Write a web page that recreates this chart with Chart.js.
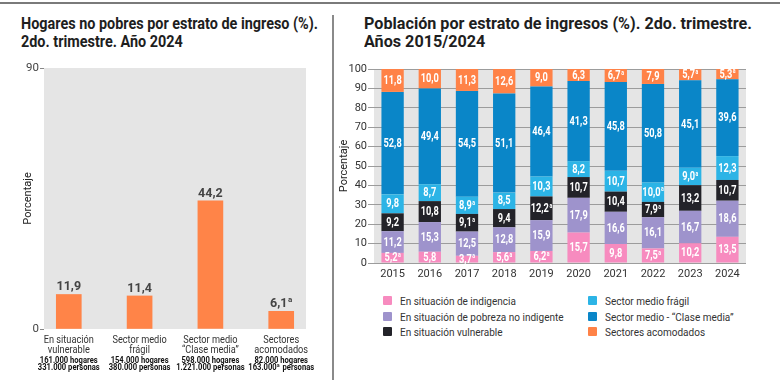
<!DOCTYPE html>
<html><head><meta charset="utf-8">
<script src="https://cdn.jsdelivr.net/npm/chart.js@4.4.1/dist/chart.umd.min.js"></script>
<style>
html,body{margin:0;padding:0;background:#fff;width:780px;height:380px;overflow:hidden;position:relative;font-family:Roboto,sans-serif}
.rule{position:absolute;left:0;top:2px;width:780px;height:2px;background:#7a7a7a}
.vdiv{position:absolute;left:332px;top:15px;width:2px;height:365px;background:#8a8a8a}
.title{position:absolute;font-weight:bold;font-size:17px;line-height:18px;color:#1e1e1e;white-space:nowrap;transform-origin:0 0}
.title span{display:block}
#t1{left:21px;top:14px}
#t2{left:364px;top:14px}
#c1{position:absolute;left:0;top:55px}
#c2{position:absolute;left:333px;top:55px}
.lg{position:absolute;font-size:11.5px;color:#333;white-space:nowrap;line-height:14px}
.lg span.sw{position:absolute;left:0;top:2px;width:9px;height:9px;border-radius:1px}
.lg span.tx{position:absolute;left:17px;top:0;transform:scaleX(0.87);transform-origin:0 0}
</style></head>
<body>
<div class="rule"></div>
<div class="vdiv"></div>
<div class="title" id="t1"><span>Hogares no pobres por estrato de ingreso (%).</span><span>2do. trimestre. Año 2024</span></div>
<div class="title" id="t2"><span>Población por estrato de ingresos (%). 2do. trimestre.</span><span>Años 2015/2024</span></div>
<canvas id="c1" width="332" height="325"></canvas>
<canvas id="c2" width="447" height="230"></canvas>
<div id="legend"></div>
<script>
// ---- Left chart data ----
const hogCategories = [["En situación","vulnerable"],["Sector medio","frágil"],["Sector medio","“Clase media”"],["Sectores","acomodados"]];
const hogValues = [11.9, 11.4, 44.2, 6.1];
const hogValueFlags = [false, false, false, true];
const hogHogares = ["161.000 hogares","154.000 hogares","598.000 hogares","82.000 hogares"];
const hogPersonasNum = ["331.000","380.000","1.221.000","163.000"];
const hogPersonasFlags = [false, false, false, true];
const hogYTicks = [0, 90];

// ---- Right chart data ----
const years = ["2015","2016","2017","2018","2019","2020","2021","2022","2023","2024"];
const seriesNames = ["En situación de indigencia","En situación de pobreza no indigente","En situación vulnerable","Sector medio frágil","Sector medio - “Clase media”","Sectores acomodados"];
const indigencia   = [5.2, 5.8, 3.7, 5.6, 6.2, 15.7, 9.8, 7.5, 10.2, 13.5];
const pobreza      = [11.2, 15.3, 12.5, 12.8, 15.9, 17.9, 16.6, 16.1, 16.7, 18.6];
const vulnerable   = [9.2, 10.8, 9.1, 9.4, 12.2, 10.7, 10.4, 7.9, 13.2, 10.7];
const medioFragil  = [9.8, 8.7, 8.9, 8.5, 10.3, 8.2, 10.7, 10.0, 9.0, 12.3];
const claseMedia   = [52.8, 49.4, 54.5, 51.1, 46.4, 41.3, 45.8, 50.8, 45.1, 39.6];
const acomodados   = [11.8, 10.0, 11.3, 12.6, 9.0, 6.3, 6.7, 7.9, 5.7, 5.3];
const indigenciaFlags  = [1,0,1,1,1,0,0,1,0,0];
const pobrezaFlags     = [0,0,0,0,0,0,0,0,0,0];
const vulnerableFlags  = [0,0,1,0,1,0,0,1,0,0];
const medioFragilFlags = [0,0,1,0,0,0,0,1,1,0];
const claseMediaFlags  = [0,0,0,0,0,0,0,0,0,0];
const acomodadosFlags  = [0,0,0,0,0,0,1,0,1,1];
const seriesColors = ["#f78bbf","#9e93cc","#232329","#2cb4e6","#0a86c8","#ff8247"];

const F = 'Roboto, sans-serif';
const fmt = v => v.toFixed(1).replace('.', ',');

// fit titles to the reference widths
function fitTitle(id, target) {
  const el = document.getElementById(id);
  const w = el.querySelector('span').getBoundingClientRect().width;
  el.style.transform = 'scaleX(' + (target / w) + ')';
}
fitTitle('t1', 297);
fitTitle('t2', 388);

// draw text with horizontal compression; align: 'left'|'center'|'right'
function drawText(ctx, s, x, y, font, align, sx) {
  ctx.save(); ctx.font = font; ctx.textAlign = align;
  ctx.translate(x, y); ctx.scale(sx, 1); ctx.fillText(s, 0, 0); ctx.restore();
}
function drawSup(ctx, txt, sup, x, y, font, supFont, sx, supRaise) {
  ctx.font = font;
  const w1 = ctx.measureText(txt).width * sx;
  let w2 = 0;
  if (sup) { ctx.font = supFont; w2 = (ctx.measureText('a').width + 0.5) * sx; }
  const x0 = x - (w1 + w2) / 2;
  drawText(ctx, txt, x0, y, font, 'left', sx);
  if (sup) drawText(ctx, 'a', x0 + w1 + 0.5, y - supRaise, supFont, 'left', sx);
  return x0 + w1 + w2;
}

const bgPlugin = (color) => ({
  id: 'bg',
  beforeDraw(chart) {
    const a = chart.chartArea, ctx = chart.ctx;
    ctx.save(); ctx.fillStyle = color; ctx.fillRect(a.left, a.top, a.right - a.left, a.bottom - a.top); ctx.restore();
  }
});

// ---- Left chart ----
const leftLabels = {
  id: 'leftLabels',
  afterDraw(chart) {
    const ctx = chart.ctx;
    const meta = chart.getDatasetMeta(0);
    ctx.save();
    ctx.fillStyle = '#444';
    ctx.textBaseline = 'alphabetic';
    meta.data.forEach((bar, i) => {
      drawSup(ctx, fmt(hogValues[i]), hogValueFlags[i], bar.x, bar.y - 4, 'bold 12.5px ' + F, 'bold 8px ' + F, 1, 5);
    });
    const xs = chart.scales.x;
    const base = xs.top;
    hogCategories.forEach((lines, i) => {
      const x = xs.getPixelForValue(i);
      ctx.fillStyle = '#333';
      ctx.textBaseline = 'middle';
      lines.forEach((l, j) => drawText(ctx, l, x, base + 11 + j * 10.5, '11.5px ' + F, 'center', 0.8));
      ctx.fillStyle = '#111';
      const numFont = 'bold 9.5px ' + F;
      drawText(ctx, hogHogares[i], x, base + 32, numFont, 'center', 0.8);
      // personas line: number (with optional superscript) + " personas"
      ctx.font = numFont;
      const wNum = ctx.measureText(hogPersonasNum[i]).width * 0.8;
      const wSup = hogPersonasFlags[i] ? 4 : 0;
      const wRest = ctx.measureText(' personas').width * 0.8;
      const x0 = x - (wNum + wSup + wRest) / 2;
      drawText(ctx, hogPersonasNum[i], x0, base + 39, numFont, 'left', 0.8);
      if (hogPersonasFlags[i]) drawText(ctx, 'a', x0 + wNum + 0.3, base + 36.5, 'bold 6px ' + F, 'left', 0.8);
      drawText(ctx, ' personas', x0 + wNum + wSup, base + 39, numFont, 'left', 0.8);
    });
    ctx.restore();
  }
};

new Chart(document.getElementById('c1'), {
  type: 'bar',
  data: { datasets: [{ data: hogValues.map((v, i) => ({ x: i, y: v })), backgroundColor: '#ff8448', barThickness: 25 }] },
  options: {
    animation: false, responsive: false,
    layout: { padding: { left: 0, right: 26, top: 13, bottom: 0 } },
    plugins: { legend: { display: false }, tooltip: { enabled: false } },
    scales: {
      x: {
        type: 'linear', min: -0.35, max: 3.35, offset: false,
        afterBuildTicks(s) { s.ticks = hogCategories.map((c, i) => ({ value: i })); },
        ticks: { display: false },
        grid: { display: false, offset: false }, border: { display: false },
        afterFit(s) { s.height = 51; }
      },
      y: {
        min: 0, max: 90,
        afterBuildTicks(s) { s.ticks = hogYTicks.map(v => ({ value: v })); },
        ticks: { font: { family: F, size: 11.5 }, color: '#444', padding: 1 },
        grid: { drawOnChartArea: false, tickLength: 4, color: '#888' }, border: { display: false },
        title: { display: true, text: 'Porcentaje', font: { family: F, size: 11 }, color: '#222', padding: { top: 22, bottom: 0 } },
        afterFit(s) { s.width = 44; }
      }
    }
  },
  plugins: [bgPlugin('#e5e5e5'), leftLabels]
});

// ---- Right chart ----
const seriesData = [indigencia, pobreza, vulnerable, medioFragil, claseMedia, acomodados];
const seriesFlags = [indigenciaFlags, pobrezaFlags, vulnerableFlags, medioFragilFlags, claseMediaFlags, acomodadosFlags];

const segLabels = {
  id: 'segLabels',
  afterDatasetsDraw(chart) {
    const ctx = chart.ctx;
    ctx.save();
    ctx.fillStyle = '#fff';
    ctx.textBaseline = 'middle';
    chart.data.datasets.forEach((ds, di) => {
      const meta = chart.getDatasetMeta(di);
      meta.data.forEach((bar, i) => {
        const y = (bar.y + bar.base) / 2;
        drawSup(ctx, fmt(seriesData[di][i]), seriesFlags[di][i], bar.x, y + 0.5, 'bold 12.5px ' + F, 'bold 7px ' + F, 0.74, 3);
      });
    });
    ctx.restore();
  }
};

new Chart(document.getElementById('c2'), {
  type: 'bar',
  data: {
    labels: years,
    datasets: seriesData.map((d, i) => ({ label: seriesNames[i], data: d, backgroundColor: seriesColors[i], barPercentage: 0.6, categoryPercentage: 1 }))
  },
  options: {
    animation: false, responsive: false,
    layout: { padding: { left: 0, right: 34, top: 14, bottom: 0 } },
    plugins: { legend: { display: false }, tooltip: { enabled: false } },
    scales: {
      x: { stacked: true, grid: { display: false, drawTicks: false, tickLength: 0 }, border: { display: false },
           ticks: { font: { family: F, size: 11 }, color: '#333', padding: 5 },
           afterFit(s) { s.height = 22; } },
      y: { stacked: true, min: 0, max: 100,
           ticks: { stepSize: 10, font: { family: F, size: 11 }, color: '#333', padding: 1 },
           grid: { color: '#9c9c9c', tickLength: 6 }, border: { display: false },
           title: { display: true, text: 'Porcentaje', font: { family: F, size: 11 }, color: '#222', padding: { top: 5, bottom: 0 } },
           afterFit(s) { s.width = 41; } }
    }
  },
  plugins: [bgPlugin('#e5e5e5'), segLabels]
});

// ---- Legend (HTML) ----
const lgPos = [[383,294],[383,310],[383,325],[588,294],[588,310],[588,325]];
const lg = document.getElementById('legend');
seriesNames.forEach((n, i) => {
  const d = document.createElement('div');
  d.className = 'lg';
  d.style.left = lgPos[i][0] + 'px'; d.style.top = lgPos[i][1] + 'px';
  d.innerHTML = '<span class="sw" style="background:' + seriesColors[i] + '"></span><span class="tx"></span>';
  d.querySelector('.tx').textContent = n;
  lg.appendChild(d);
});
</script>
</body></html>
